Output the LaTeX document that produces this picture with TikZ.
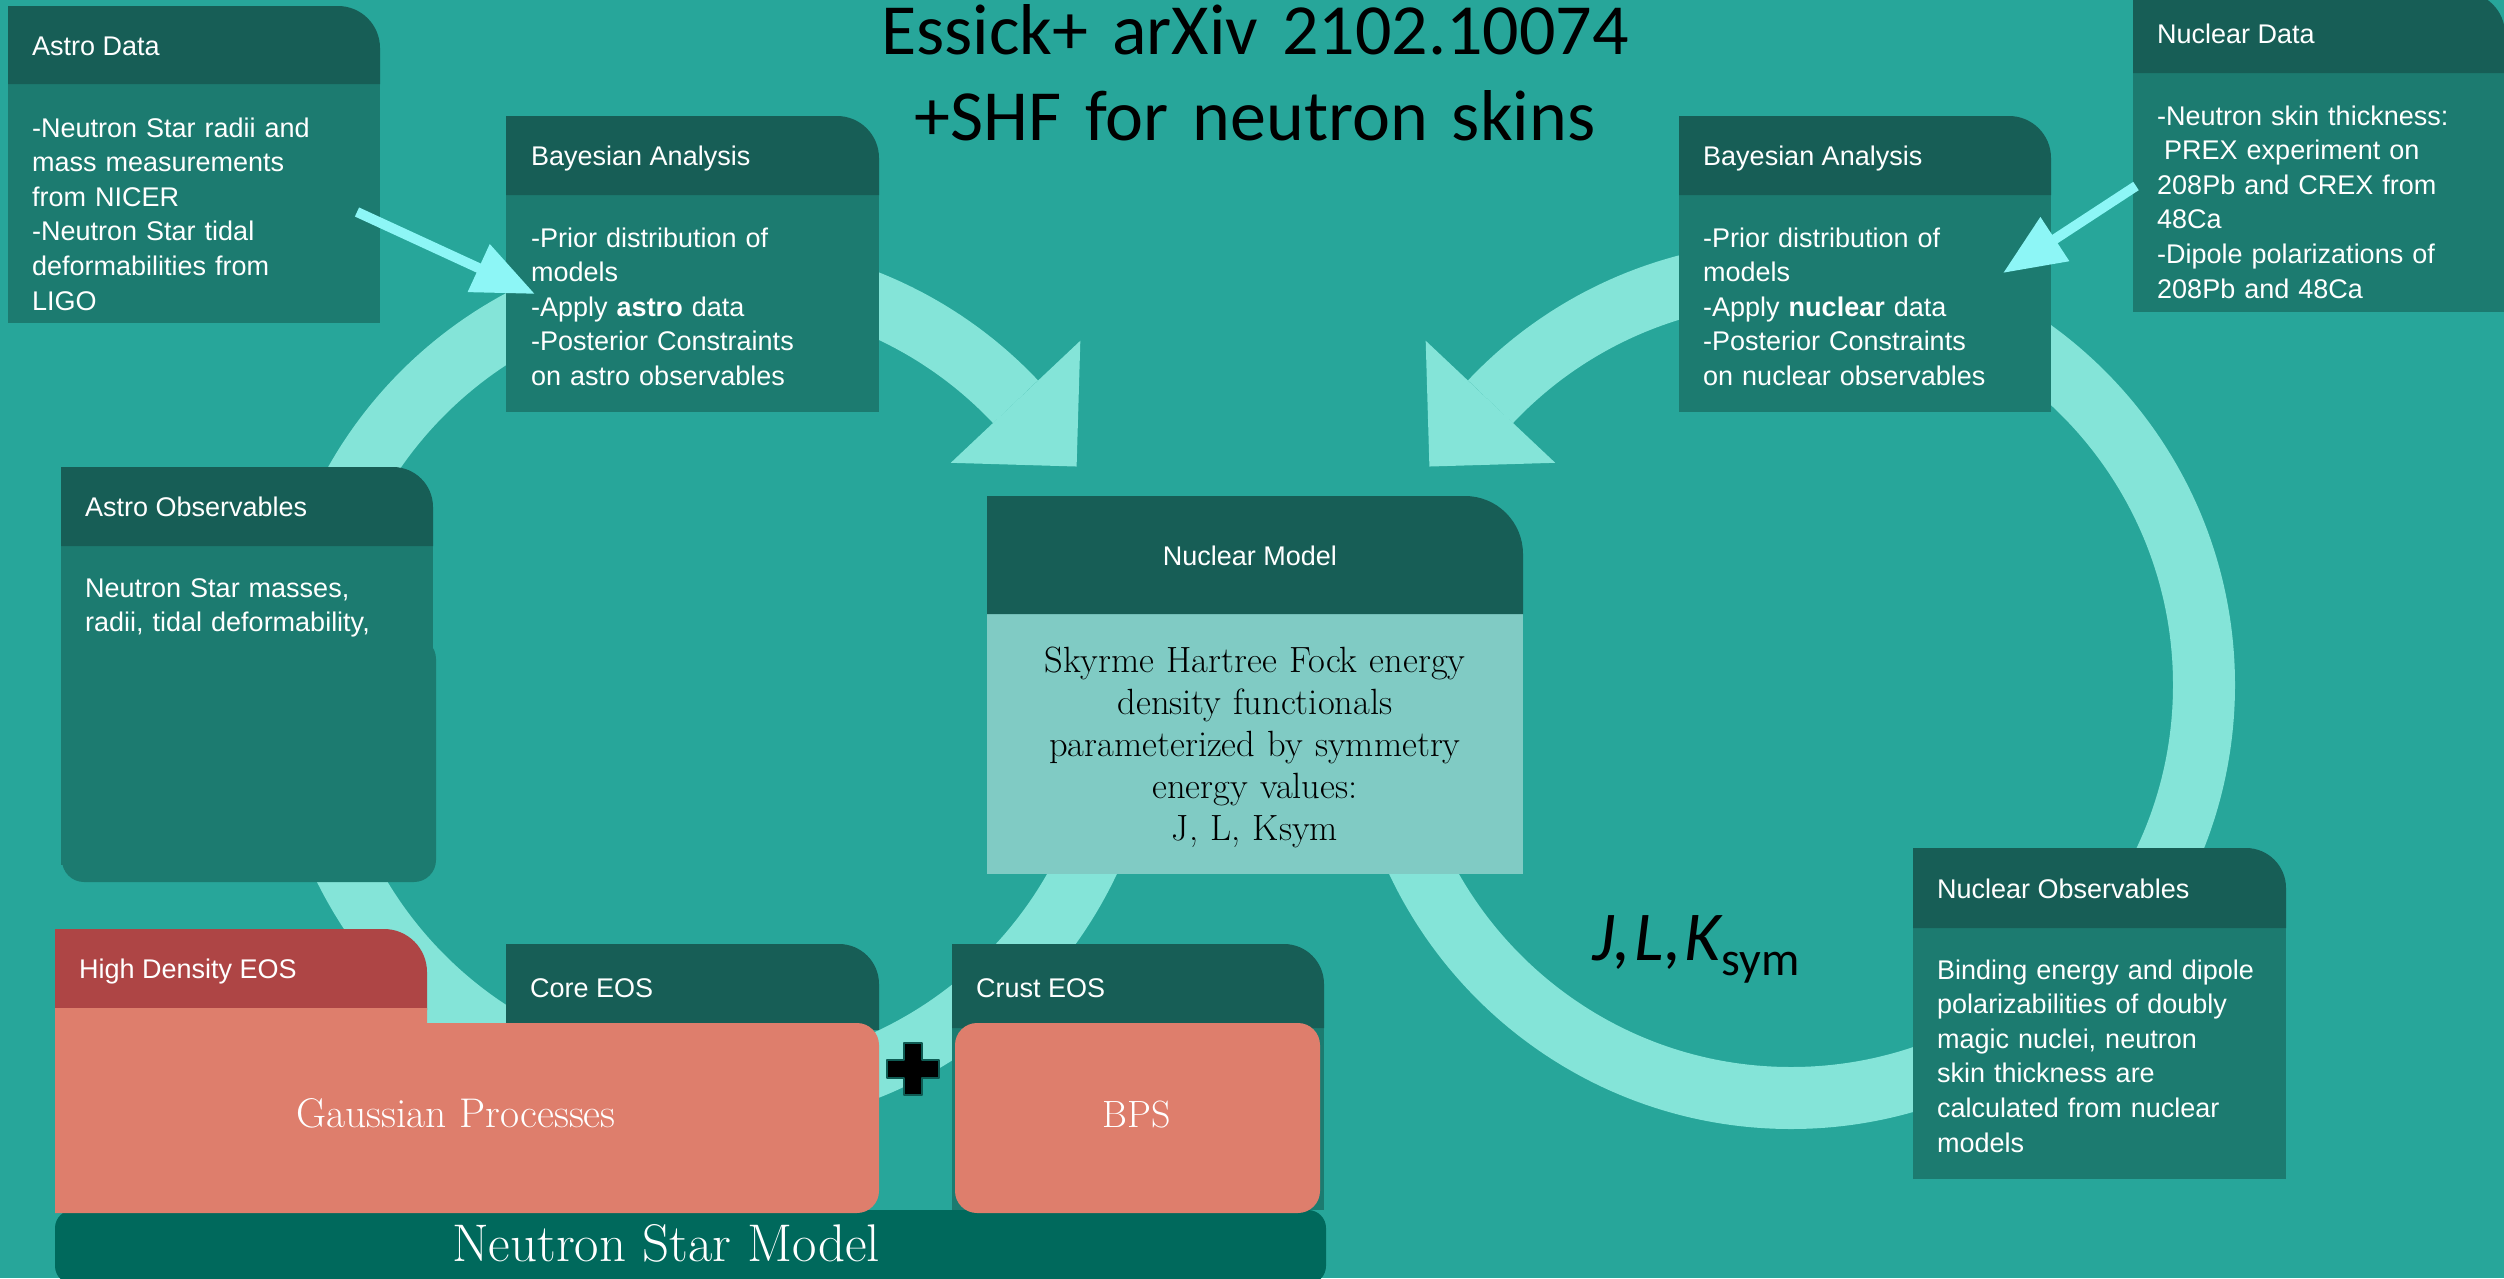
\documentclass[tikz,border=0pt]{standalone}
\usepackage{fontspec}
\usetikzlibrary{calc,arrows.meta}
\newfontfamily\robo{Liberation Sans}
\newfontfamily\carl{Carlito}

\definecolor{bgteal}{HTML}{27A69A}
\definecolor{hdrteal}{HTML}{175E56}
\definecolor{bodyteal}{HTML}{1C7B70}
\definecolor{ringteal}{HTML}{84E4D8}
\definecolor{modelbody}{HTML}{80CBC4}
\definecolor{hdred}{HTML}{AE4545}
\definecolor{salmon}{HTML}{DE7E6C}
\definecolor{nsbar}{HTML}{00695C}
\definecolor{cyanarrow}{HTML}{8DF6F6}
\definecolor{plusrim}{HTML}{0E5B53}

% a box whose top-right corner alone is rounded: x1, ytop, x2, ybottom, radius, style
\newcommand\tabbox[6]{%
  \fill[#6] (#1,#4) -- (#1,#2) -- ({#3-#5},#2)
    arc[start angle=-90,end angle=0,radius=#5] -- (#3,#4) -- cycle;}

\tikzset{
  bgfill/.style={fill=bgteal},
  hdrfill/.style={fill=hdrteal},
  bodyfill/.style={fill=bodyteal},
  redfill/.style={fill=hdred},
  salmonfill/.style={fill=salmon},
  modelfill/.style={fill=modelbody},
  barfill/.style={fill=nsbar},
  ringline/.style={draw=ringteal,line width=62pt,line cap=butt},
  ringhead/.style={fill=ringteal},
  cyanline/.style={draw=cyanarrow,line width=10pt,
    -{Triangle[length=62pt,width=50pt]}},
  plusmark/.style={fill=black,draw=plusrim,line width=2.5pt,line join=round},
  hdtext/.style={anchor=base west,inner sep=0pt,text=white,
    font=\robo\fontsize{27}{34.6}\selectfont},
  bodytext/.style={hdtext,text width=420pt,align=left},
  serifwhite/.style={anchor=base,inner sep=0pt,text=white,
    font=\fontsize{40}{44}\selectfont},
  modeltext/.style={anchor=base,inner sep=0pt,text=black,text width=520pt,
    align=center,font=\fontsize{36.5}{42}\selectfont},
  titletext/.style={anchor=base,inner sep=0pt,text=black,text width=1200pt,
    align=center,font=\carl\fontsize{72}{86}\selectfont},
}

\begin{document}
\begin{tikzpicture}[x=1pt,y=-1pt]
\useasboundingbox (0,0) rectangle (2504,1278);
\clip (0,0) rectangle (2504,1278);
\fill[bgfill] (0,0) rectangle (2504,1278);

% ---- the two cycle arrows ----
\coordinate (cL) at (715,685);
\coordinate (cR) at (1791,685);
\draw[ringline] ($(cL)+(0:413)$) arc[start angle=0,end angle=316.7,radius=413];
\fill[ringhead] ($(cL)+(316.7:324)$) -- ($(cL)+(316.7:502)$)
  -- ($(cL)+(328.86:422.5)$) -- cycle;
\draw[ringline] ($(cR)+(180:413)$) arc[start angle=180,end angle=-136.7,radius=413];
\fill[ringhead] ($(cR)+(-136.7:324)$) -- ($(cR)+(-136.7:502)$)
  -- ($(cR)+(-148.86:422.5)$) -- cycle;

% ---- Astro Data ----
\fill[bodyfill] (8,84) rectangle (380,323);
\tabbox{8}{6}{380}{84}{42}{hdrfill}
% ---- Bayesian Analysis (astro) ----
\fill[bodyfill] (506,195) rectangle (879,412);
\tabbox{506}{116}{879}{195}{42}{hdrfill}
% ---- Bayesian Analysis (nuclear) ----
\fill[bodyfill] (1679,195) rectangle (2051,412);
\tabbox{1679}{116}{2051}{195}{42}{hdrfill}
% ---- Nuclear Data ----
\fill[bodyfill] (2133,73) rectangle (2505,312);
\tabbox{2133}{-8}{2505}{73}{42}{hdrfill}
% ---- Astro Observables ----
\fill[bodyfill] (61,546) rectangle (433,865);
\tabbox{61}{467}{433}{546}{40}{hdrfill}
\fill[bodyfill,rounded corners=22pt] (62,637) rectangle (436,882);
% ---- Nuclear Model ----
\fill[modelfill] (987,614) rectangle (1523,874);
\tabbox{987}{496}{1523}{614}{58}{hdrfill}
% ---- Nuclear Observables ----
\fill[bodyfill] (1913,928) rectangle (2286,1179);
\tabbox{1913}{848}{2286}{928}{40}{hdrfill}

% ---- Neutron Star Model ----
\fill[barfill,rounded corners=18pt] (55,1210) rectangle (1326,1284);
\tabbox{55}{929}{427}{1010}{43}{redfill}
\tabbox{506}{944}{879}{1030}{40}{hdrfill}
\fill[bodyfill] (952,1026) rectangle (1324,1210);
\tabbox{952}{944}{1324}{1028}{40}{hdrfill}
\fill[salmonfill] (55,1008) -- (427,1008) -- (427,1023) -- (857,1023)
  arc[start angle=-90,end angle=0,radius=22] -- (879,1191)
  arc[start angle=0,end angle=90,radius=22] -- (55,1213) -- cycle;
\fill[salmonfill,rounded corners=22pt] (955,1023) rectangle (1320,1213);

% ---- texts ----
\node[hdtext] (adT) at (32,55) {Astro Data};
\node[bodytext] (adB) at (32,137) {-Neutron Star radii and\\mass measurements\\from NICER\\-Neutron Star tidal\\deformabilities from\\LIGO};
\node[hdtext] (baT) at (531,165) {Bayesian Analysis};
\node[bodytext] (baB) at (531,247) {-Prior distribution of\\models\\-Apply \textbf{astro} data\\-Posterior Constraints\\on astro observables};
\node[hdtext] (bnT) at (1703,165) {Bayesian Analysis};
\node[bodytext] (bnB) at (1703,247) {-Prior distribution of\\models\\-Apply \textbf{nuclear} data\\-Posterior Constraints\\on nuclear observables};
\node[hdtext] (ndT) at (2157,43) {Nuclear Data};
\node[bodytext] (ndB) at (2157,125) {-Neutron skin thickness:\\\hspace*{7pt}PREX experiment on\\208Pb and CREX from\\48Ca\\-Dipole polarizations of\\208Pb and 48Ca};
\node[hdtext] (aoT) at (85,516) {Astro Observables};
\node[bodytext] (aoB) at (85,597) {Neutron Star masses,\\radii, tidal deformability,};
\node[hdtext,anchor=base] (nmT) at (1250,565) {Nuclear Model};
\node[modeltext] (nmB) at (1255,672) {Skyrme Hartree Fock energy\\density functionals\\parameterized by symmetry\\energy values:\\J, L, Ksym};
\node[hdtext] (noT) at (1937,898) {Nuclear Observables};
\node[bodytext] (noB) at (1937,979) {Binding energy and dipole\\polarizabilities of doubly\\magic nuclei, neutron\\skin thickness are\\calculated from nuclear\\models};
\node[hdtext] (hdT) at (79,978) {High Density EOS};
\node[hdtext] (coT) at (530,997) {Core EOS};
\node[hdtext] (crT) at (976,997) {Crust EOS};
\node[serifwhite,font=\fontsize{41.5}{44}\selectfont] (gp) at (456,1127) {Gaussian Processes};
\node[serifwhite,font=\fontsize{38}{44}\selectfont] (bps) at (1137,1127) {BPS};
\node[serifwhite,font=\fontsize{53}{53}\selectfont] (nsm) at (666,1261) {Neutron Star Model};

% ---- data feeding into the analyses ----
\coordinate (adFrom) at (357,212);
\coordinate (adTo) at (535,294);
\draw[cyanline] (adFrom) -- (adTo);
\coordinate (ndFrom) at (2136,186);
\coordinate (ndTo) at (2003,273);
\draw[cyanline] (ndFrom) -- (ndTo);

% ---- plus between core and crust ----
\coordinate (plus) at (913,1069);
\fill[plusmark] (plus) +(-9,-26) -- +(9,-26) -- +(9,-9) -- +(26,-9) -- +(26,9)
  -- +(9,9) -- +(9,26) -- +(-9,26) -- +(-9,9) -- +(-26,9) -- +(-26,-9)
  -- +(-9,-9) -- cycle;

% ---- title and parameters ----
\node[titletext] (title) at (1255,54) {Essick+ arXiv 2102.10074\\+SHF for neutron skins};
\node[anchor=base west,inner sep=0pt,text=black,font=\carl\fontsize{70}{70}\selectfont]
  (jlk) at (1592,960) {\itshape J,\kern3pt L,\kern3pt K\kern1pt\raisebox{-15pt}{\upshape\fontsize{48}{48}\selectfont sym}};
\end{tikzpicture}
\end{document}
